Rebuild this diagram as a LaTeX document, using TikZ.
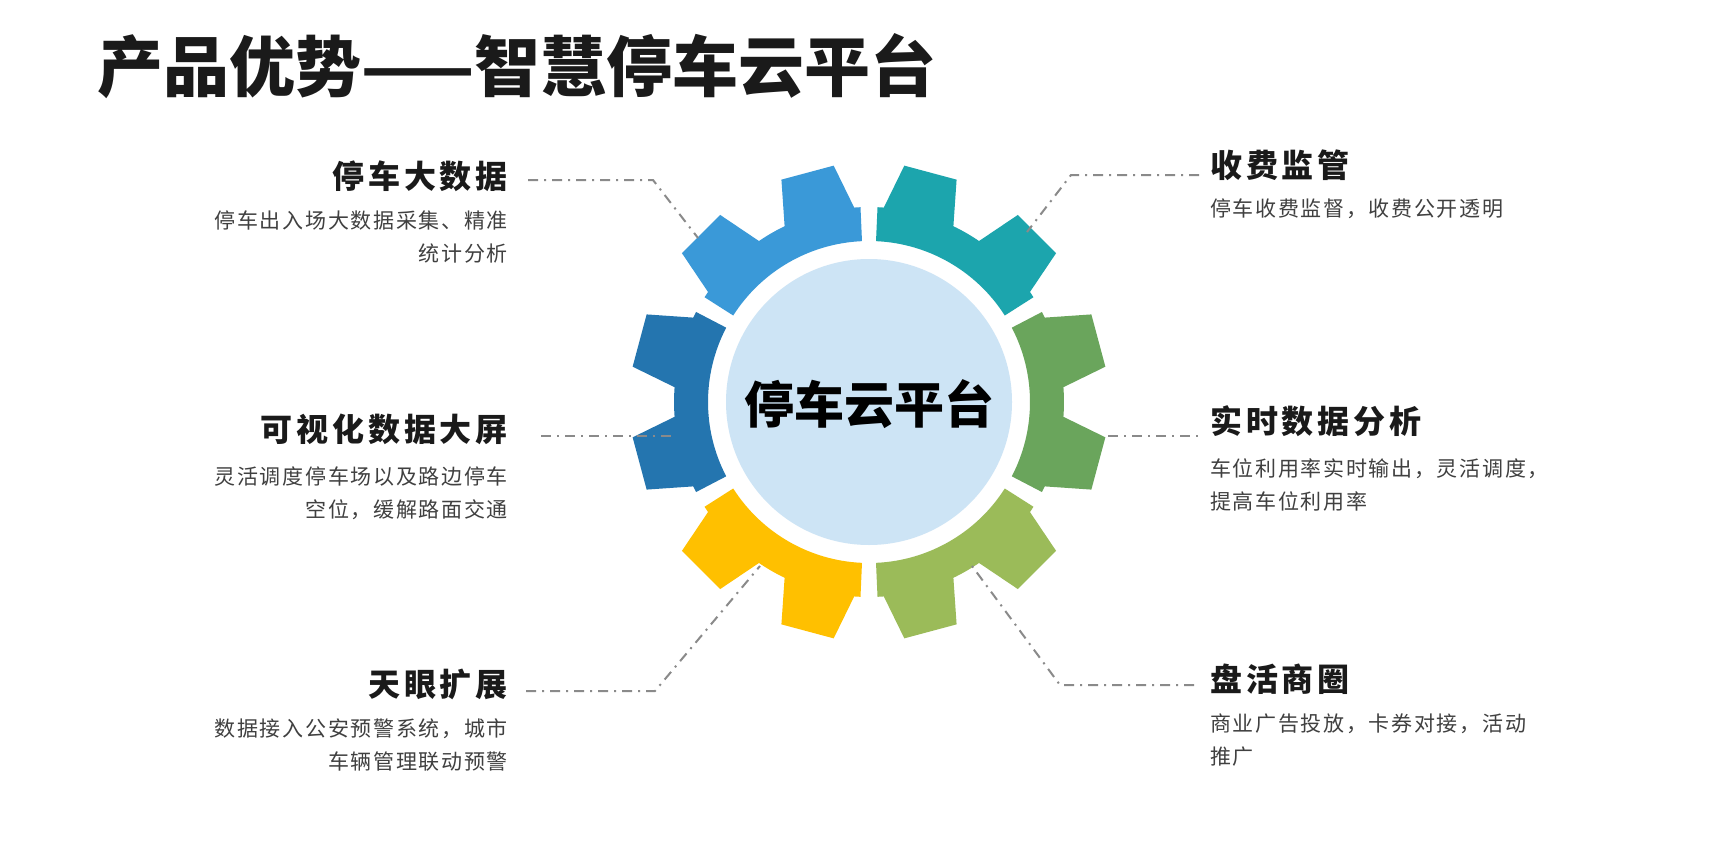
\documentclass[tikz,border=0pt]{standalone}
\usepackage{fontspec}
\newfontfamily\cjk{Noto Sans CJK SC}
\newfontfamily\cjkt[LetterSpace=12]{Noto Sans CJK SC}
\newfontfamily\cjkd[LetterSpace=8]{Noto Sans CJK SC}
\definecolor{cA}{HTML}{3A99D8}
\definecolor{cB}{HTML}{1CA5AD}
\definecolor{cC}{HTML}{6AA55C}
\definecolor{cD}{HTML}{9BBB59}
\definecolor{cE}{HTML}{FFC000}
\definecolor{cF}{HTML}{2475AF}
\definecolor{cIn}{HTML}{CDE4F5}
\definecolor{ink}{HTML}{1A1A1A}
\definecolor{dsc}{HTML}{404040}
\definecolor{ln}{HTML}{8A8A8A}
\tikzset{
  ttl/.style={inner sep=0pt, text=ink, font=\cjkt\bfseries\fontsize{32}{36}\selectfont},
  dscl/.style={inner sep=0pt, text=dsc, align=right, font=\cjkd\fontsize{21}{33}\selectfont},
  dscr/.style={inner sep=0pt, text=dsc, align=left, font=\cjkd\fontsize{21}{33}\selectfont},
  conn/.style={ln, line width=2pt, dash pattern=on 10pt off 6pt on 2pt off 6pt}
}
\newcommand{\gearseg}[2]{%
  \fill[#2] (#1+2.5:161pt) arc[start angle=#1+2.5, end angle=#1+57.5, radius=161pt]
    -- (#1+57.5:195pt) arc[start angle=#1+57.5, end angle=#1+2.5, radius=195pt] -- cycle;
  \foreach \t in {15,45}{
    \fill[#2] (#1+\t-11:192pt) -- (#1+\t-6.5:239pt) -- (#1+\t+6.5:239pt) -- (#1+\t+11:192pt) -- cycle;}
}
\begin{document}
\begin{tikzpicture}[x=1pt,y=-1pt]
\useasboundingbox (0,0) rectangle (1724,859);
\fill[white] (0,0) rectangle (1724,859);
\node[anchor=west, inner sep=0pt, text=ink, font=\cjk\bfseries\fontsize{66}{70}\selectfont] (title) at (97,66) {产品优势——智慧停车云平台};

\begin{scope}[shift={(869,402)}]
  \gearseg{90}{cA}
  \gearseg{30}{cB}
  \gearseg{-30}{cC}
  \gearseg{-90}{cD}
  \gearseg{210}{cE}
  \gearseg{150}{cF}
  \fill[cIn] (0,0) circle[radius=143pt];
\end{scope}
\node[text=black, inner sep=0pt, font=\cjk\bfseries\fontsize{50}{54}\selectfont] (hub) at (869,404) {停车云平台};

% left labels
\node[ttl, anchor=east] (l1) at (508,176) {停车大数据};
\node[dscl, anchor=north east] (l1d) at (508,211) {停车出入场大数据采集、精准\\统计分析};
\node[ttl, anchor=east] (l2) at (508,429) {可视化数据大屏};
\node[dscl, anchor=north east] (l2d) at (508,467) {灵活调度停车场以及路边停车\\空位，缓解路面交通};
\node[ttl, anchor=east] (l3) at (508,684) {天眼扩展};
\node[dscl, anchor=north east] (l3d) at (508,718) {数据接入公安预警系统，城市\\车辆管理联动预警};
% right labels
\node[ttl, anchor=west] (r1) at (1210,165) {收费监管};
\node[dscr, anchor=north west] (r1d) at (1210,199) {停车收费监督，收费公开透明};
\node[ttl, anchor=west] (r2) at (1210,421) {实时数据分析};
\node[dscr, anchor=north west] (r2d) at (1210,459) {车位利用率实时输出，灵活调度，\\提高车位利用率};
\node[ttl, anchor=west] (r3) at (1210,679) {盘活商圈};
\node[dscr, anchor=north west] (r3d) at (1210,714) {商业广告投放，卡券对接，活动\\推广};

% connectors
\coordinate (a1) at (528,180); \coordinate (b1) at (653,180); \coordinate (c1) at (698,238);
\coordinate (a2) at (541,436); \coordinate (c2) at (674,436);
\coordinate (a3) at (526,691); \coordinate (b3) at (655,691); \coordinate (c3) at (760,566);
\coordinate (a4) at (1199,175); \coordinate (b4) at (1071,175); \coordinate (c4) at (1027,232);
\coordinate (c5) at (1108,436); \coordinate (a5) at (1199,436);
\coordinate (a6) at (1194,685); \coordinate (b6) at (1060,685); \coordinate (c6) at (972,566);
\draw[conn] (a1) -- (b1) -- (c1);
\draw[conn] (a2) -- (c2);
\draw[conn] (a3) -- (b3) -- (c3);
\draw[conn] (a4) -- (b4) -- (c4);
\draw[conn] (c5) -- (a5);
\draw[conn] (a6) -- (b6) -- (c6);
\end{tikzpicture}
\end{document}
